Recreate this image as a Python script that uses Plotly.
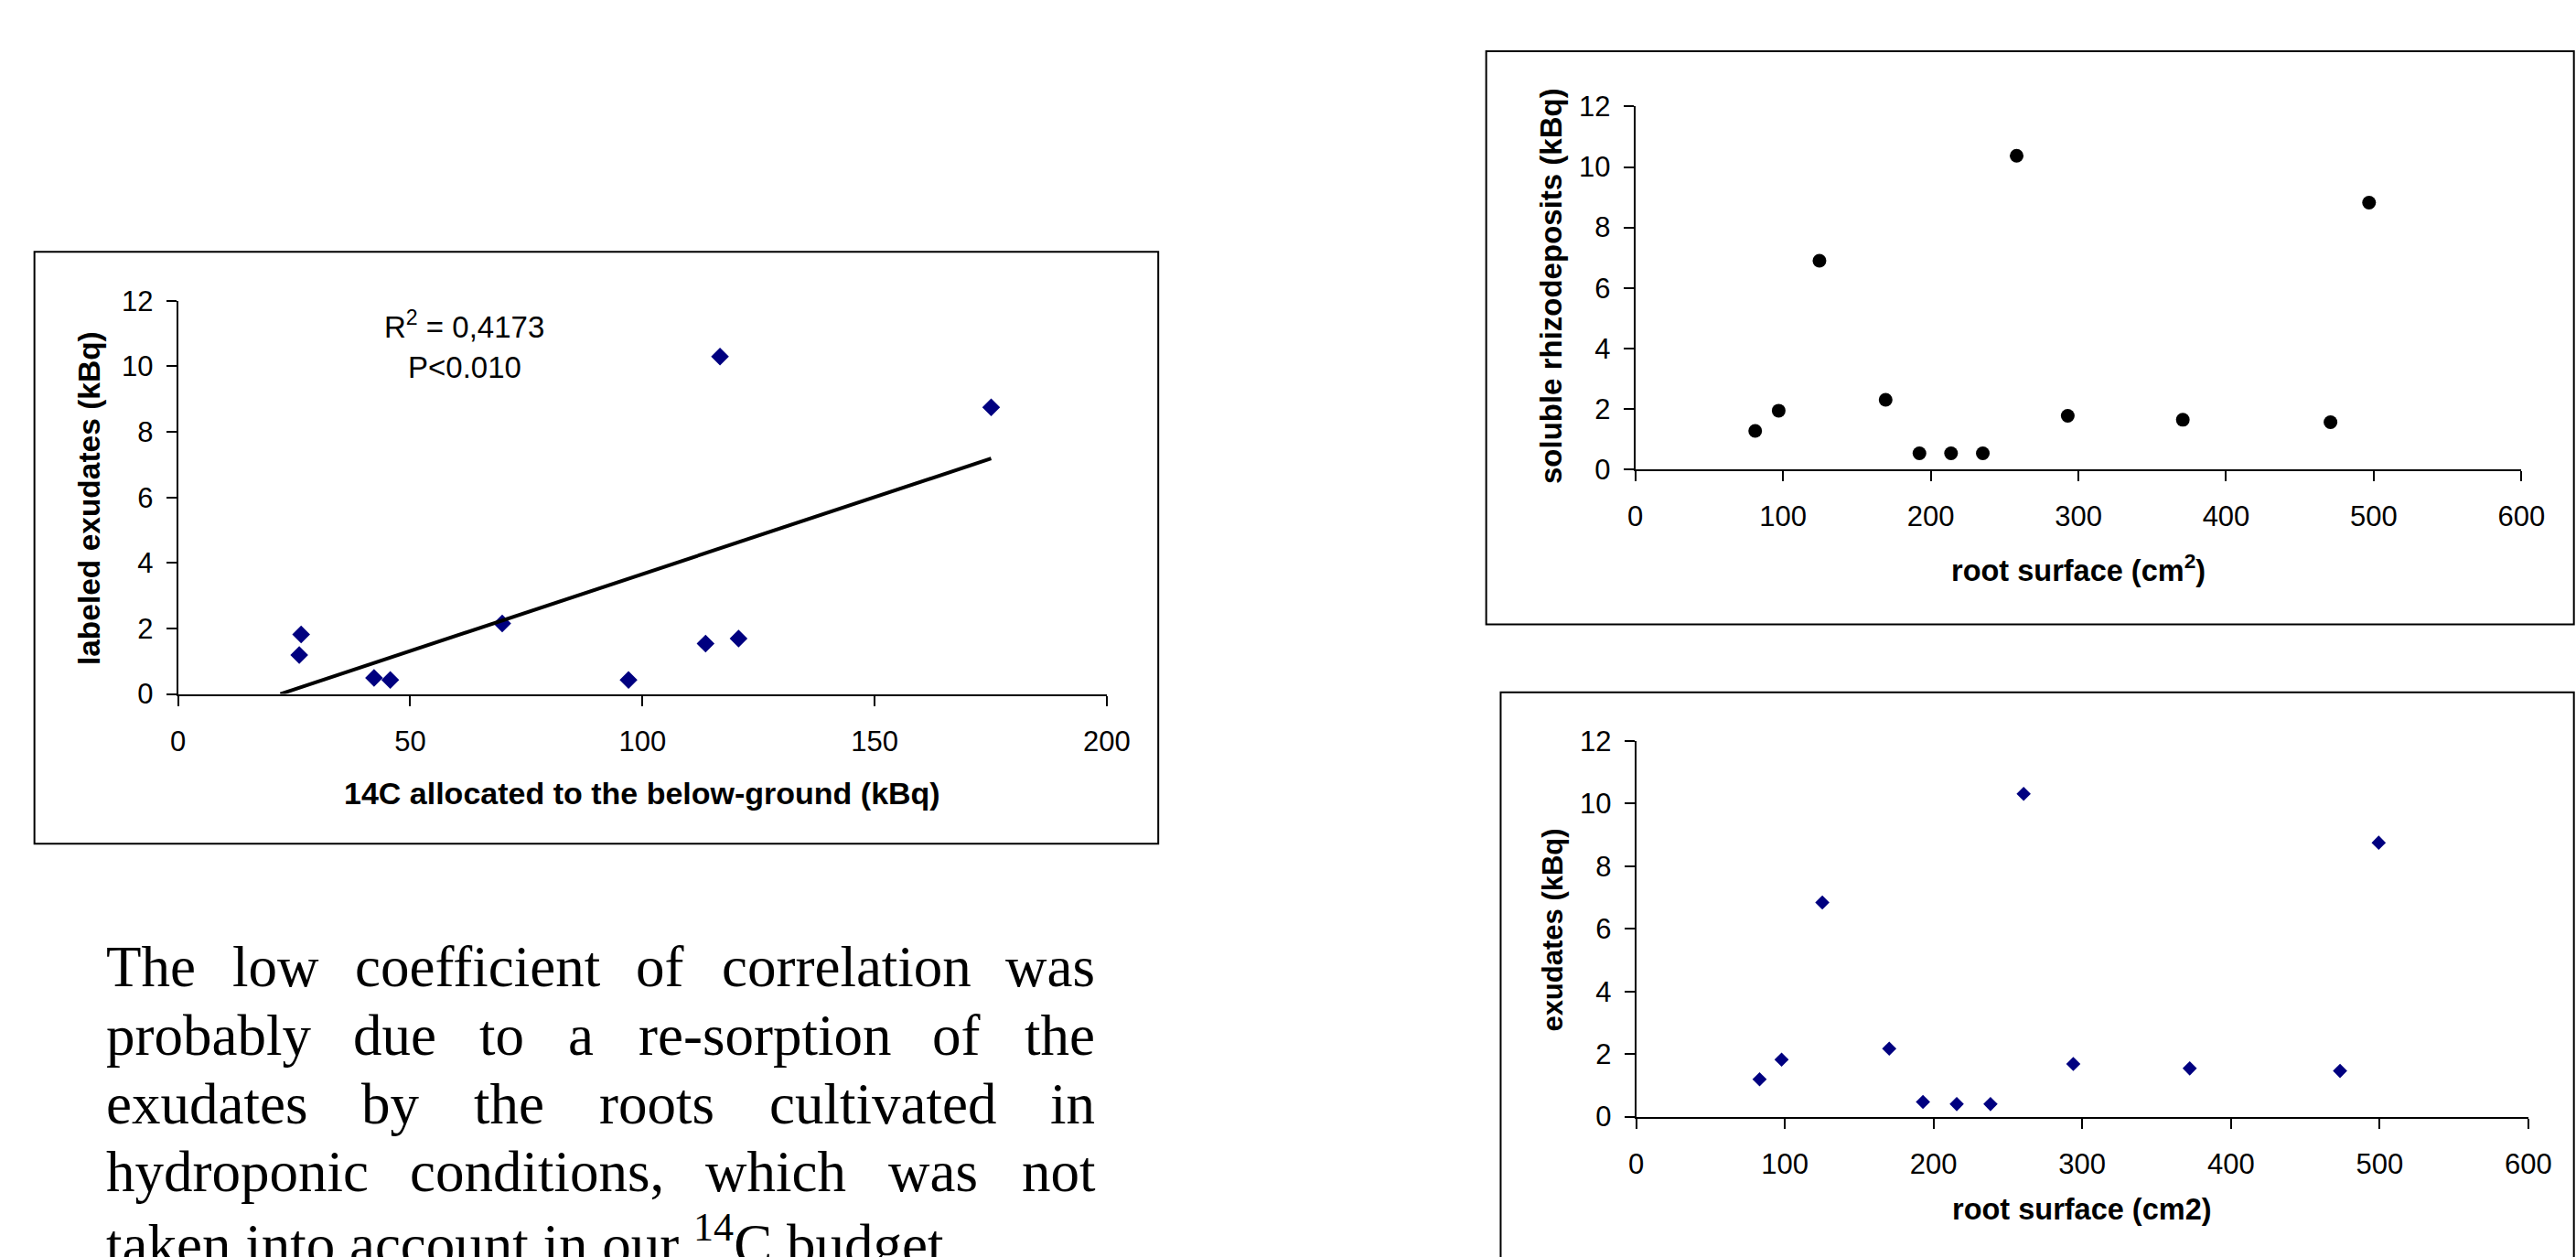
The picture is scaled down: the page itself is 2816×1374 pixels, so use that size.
import numpy as np
import plotly.graph_objects as go

W, H = 2816, 1374

# ---------------- data ----------------
alloc_below_ground = [26.5, 26.1, 42.2, 45.7, 69.8, 97.0, 113.6, 116.7, 120.7, 175.1]
labeled_exudates = [1.82, 1.19, 0.49, 0.43, 2.15, 0.43, 1.54, 10.30, 1.69, 8.75]

root_surface_a = [81.2, 97.1, 124.7, 169.5, 192.4, 213.8, 235.3, 258.2, 292.8, 370.7, 470.7, 496.8]
soluble_rhizodeposits = [1.27, 1.94, 6.90, 2.30, 0.53, 0.53, 0.53, 10.37, 1.77, 1.64, 1.56, 8.82]

root_surface_b = [83.0, 97.8, 125.2, 170.2, 192.9, 215.6, 238.3, 260.6, 294.0, 372.3, 473.4, 499.4]
exudates = [1.19, 1.82, 6.84, 2.17, 0.47, 0.40, 0.40, 10.31, 1.68, 1.54, 1.46, 8.75]

x_ticks_left = [0, 50, 100, 150, 200]
x_ticks_right = [0, 100, 200, 300, 400, 500, 600]
y_ticks = [0, 2, 4, 6, 8, 10, 12]

r2_label = "R<sup>2</sup> = 0,4173"
p_label = "P<0.010"
title_x_left = "14C allocated to the below-ground (kBq)"
title_y_left = "labeled exudates (kBq)"
title_y_top = "soluble rhizodeposits (kBq)"
title_x_top = "root surface (cm<sup>2</sup>)"
title_y_bottom = "exudates (kBq)"
title_x_bottom = "root surface (cm2)"

paragraph_lines = [
    "The low coefficient of correlation was",
    "probably due to a re-sorption of the",
    "exudates by the roots cultivated in",
    "hydroponic conditions, which was not",
]
paragraph_last = "taken into account in our <sup>14</sup>C budget."

# ---------------- helpers ----------------
def fx(px):
    return px / W

def fy(py):
    return 1 - py / H

SANS = "Liberation Sans, Arial, sans-serif"
SERIF = "Liberation Serif, Times New Roman, serif"
NAVY = "#000080"

# linear trend of the left chart (computed from the data)
a, b = np.polyfit(alloc_below_ground, labeled_exudates, 1)
x_start = -b / a
x_end = max(alloc_below_ground)
trend_x = [x_start, x_end]
trend_y = [a * x_start + b, a * x_end + b]

fig = go.Figure()

fig.add_trace(go.Scatter(x=alloc_below_ground, y=labeled_exudates, mode="markers",
                         marker=dict(symbol="diamond", size=15, color=NAVY, line=dict(width=0)),
                         xaxis="x", yaxis="y", showlegend=False))
fig.add_trace(go.Scatter(x=trend_x, y=trend_y, mode="lines",
                         line=dict(color="black", width=4),
                         xaxis="x", yaxis="y", showlegend=False))
fig.add_trace(go.Scatter(x=root_surface_a, y=soluble_rhizodeposits, mode="markers",
                         marker=dict(symbol="circle", size=15, color="black", line=dict(width=0)),
                         xaxis="x2", yaxis="y2", showlegend=False))
fig.add_trace(go.Scatter(x=root_surface_b, y=exudates, mode="markers",
                         marker=dict(symbol="diamond", size=12, color=NAVY, line=dict(width=0)),
                         xaxis="x3", yaxis="y3", showlegend=False))


def axis(domain, rng, ticks, anchor, is_x):
    d = dict(domain=domain, range=rng, tickvals=ticks, ticktext=[str(t) for t in ticks],
             anchor=anchor, showgrid=False, zeroline=False, showline=True,
             linecolor="black", linewidth=2, ticks="outside", ticklen=11, tickwidth=2,
             tickcolor="black", tickfont=dict(family=SANS, size=31, color="black"),
             fixedrange=True)
    d["ticklabelstandoff"] = 12 if is_x else 8
    return d

# plot areas in pixels
L = dict(x0=188, x1=1216, y0=320, y1=761)
TR = dict(x0=1801, x1=2782, y0=102, y1=509)
BR = dict(x0=1802, x1=2789.5, y0=813.7, y1=1235)

fig.update_layout(
    width=W, height=H, margin=dict(l=0, r=0, t=0, b=0),
    paper_bgcolor="white", plot_bgcolor="white", showlegend=False,
    xaxis=axis([fx(L["x0"]), fx(L["x1"])], [0, 200], x_ticks_left, "y", True),
    yaxis=axis([fy(L["y1"]), fy(L["y0"])], [0, 12], y_ticks, "x", False),
    xaxis2=axis([fx(TR["x0"]), fx(TR["x1"])], [0, 600], x_ticks_right, "y2", True),
    yaxis2=axis([fy(TR["y1"]), fy(TR["y0"])], [0, 12], y_ticks, "x2", False),
    xaxis3=axis([fx(BR["x0"]), fx(BR["x1"])], [0, 600], x_ticks_right, "y3", True),
    yaxis3=axis([fy(BR["y1"]), fy(BR["y0"])], [0, 12], y_ticks, "x3", False),
)

# frames around the charts
frames = [(29, 265, 1273, 929), (1636, 40, 2840, 683), (1652, 759, 2840, 1400)]
for (x0, y0, x1, y1) in frames:
    fig.add_shape(type="rect", xref="paper", yref="paper",
                  x0=fx(x0), x1=fx(x1), y0=fy(y1), y1=fy(y0),
                  line=dict(color="black", width=2), fillcolor="rgba(0,0,0,0)", layer="above")

annotations = []

def ann(text, px, py, size, bold=False, angle=0, family=SANS, xanchor="center"):
    t = f"<b>{text}</b>" if bold else text
    annotations.append(dict(text=t, x=fx(px), y=fy(py), xref="paper", yref="paper",
                            xanchor=xanchor, yanchor="middle", showarrow=False,
                            textangle=angle, borderpad=0, borderwidth=0,
                            font=dict(family=family, size=size, color="black")))

# axis titles
ann(title_x_left, 702, 872, 34, bold=True)
ann(title_y_left, 89, 541, 33.5, bold=True, angle=-90)
ann(title_x_top, 2291, 620, 32.5, bold=True)
ann(title_y_top, 1708, 303, 33, bold=True, angle=-90)
ann(title_x_bottom, 2296, 1339, 32.5, bold=True)
ann(title_y_bottom, 1710, 1026, 31, bold=True, angle=-90)

# regression statistics
ann(r2_label, 505, 347, 33)
ann(p_label, 505, 395, 33)

# paragraph (justified, Times-like metrics)
TIMES_W = {
    ' ': 250, 'a': 444, 'b': 500, 'c': 444, 'd': 500, 'e': 444, 'f': 333, 'g': 500,
    'h': 500, 'i': 278, 'j': 278, 'k': 500, 'l': 278, 'm': 778, 'n': 500, 'o': 500,
    'p': 500, 'q': 500, 'r': 333, 's': 389, 't': 278, 'u': 500, 'v': 500, 'w': 722,
    'x': 500, 'y': 500, 'z': 444, 'T': 611, 'C': 667, ',': 250, '.': 250, '-': 333,
}

def text_width(s, size):
    return sum(TIMES_W.get(ch, 500) for ch in s) / 1000.0 * size

P_SIZE = 63
P_LEFT, P_RIGHT = 108, 1202
baselines = [1088, 1165, 1242, 1318, 1395]
for line, base in zip(paragraph_lines, baselines):
    words = line.split(" ")
    widths = [text_width(w, P_SIZE) for w in words]
    gap = (P_RIGHT - P_LEFT - sum(widths)) / (len(words) - 1)
    pos = P_LEFT
    for w, wd in zip(words, widths):
        ann(w, pos, base - 21, P_SIZE, family=SERIF, xanchor="left")
        pos += wd + gap
ann(paragraph_last, P_LEFT, baselines[4] - 21, P_SIZE, family=SERIF, xanchor="left")

fig.update_layout(annotations=annotations)

post = (
    "document.documentElement.style.margin='0';"
    "document.body.style.margin='0';"
    "document.body.style.overflow='hidden';"
    "var gd=document.getElementById('{plot_id}');"
    "if(gd){gd.style.position='absolute';gd.style.left='0px';gd.style.top='0px';}"
)
fig.write_html("out.html", config={"displayModeBar": False}, post_script=post)
